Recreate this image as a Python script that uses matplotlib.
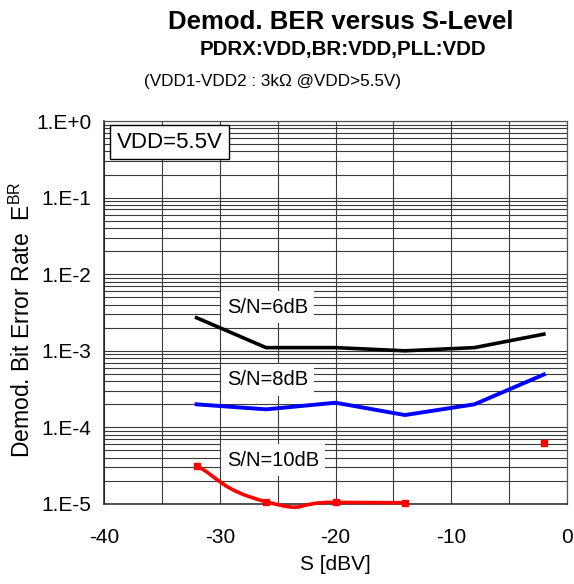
#!/usr/bin/env python3

import matplotlib
matplotlib.use("Agg")

from matplotlib.patches import PathPatch
from matplotlib.path import Path
from matplotlib.pyplot import close, figure, rcParams
from matplotlib.ticker import LogLocator, MultipleLocator, NullFormatter
from numpy import array, isnan, log10, nan

rcParams["font.family"] = ["Liberation Sans", "DejaVu Sans"]
rcParams["mathtext.fontset"] = "custom"
rcParams["mathtext.rm"] = "Liberation Sans"

# S level [dBV]
s_level = [-32, -26, -20, -14, -8, -2]
ber_6db = [2.7e-3, 1.1e-3, 1.1e-3, 1.0e-3, 1.1e-3, 1.65e-3]
ber_8db = [2.0e-4, 1.72e-4, 2.1e-4, 1.45e-4, 2.0e-4, 4.9e-4]
ber_10db = [3.15e-5, 1.07e-5, 1.05e-5, 1.04e-5, nan, 6.2e-5]

ytick_values = [1e0, 1e-1, 1e-2, 1e-3, 1e-4, 1e-5]
ytick_labels = ["1.E+0", "1.E-1", "1.E-2", "1.E-3", "1.E-4", "1.E-5"]
xtick_values = [-40, -30, -20, -10, 0]

labels = [
    ("S/N=6dB", -29.4, 3.73e-3),
    ("S/N=8dB", -29.4, 4.16e-4),
    ("S/N=10dB", -29.4, 3.75e-5),
]


def smooth_path(xs, ys, k=1 / 3):
    # bezier through the points, like a spreadsheet "smoothed line"
    pts = [array([x, log10(y)]) for (x, y) in zip(xs, ys)]
    n = len(pts)
    verts = [pts[0]]
    codes = [Path.MOVETO]
    for i in range(n - 1):
        p0 = pts[max(i - 1, 0)]
        p1 = pts[i]
        p2 = pts[i + 1]
        p3 = pts[min(i + 2, n - 1)]
        verts += [p1 + (p2 - p0) * k, p2 - (p3 - p1) * k, p2]
        codes += [Path.CURVE4] * 3
    return Path([(v[0], 10 ** v[1]) for v in verts], codes)


def segments(xs, ys):
    out = []
    cur = []
    for (x, y) in zip(xs, ys):
        if isnan(y):
            if cur:
                out.append(cur)
            cur = []
        else:
            cur.append((x, y))
    if cur:
        out.append(cur)
    return out


def do_plot(filename):
    fig = figure(figsize=(5.74, 5.84), dpi=100)
    ax = fig.add_axes([0.1812, 0.137, 0.8066, 0.6558])

    ax.set_yscale("log")
    ax.set_xlim(-40, 0)
    ax.set_ylim(1e-5, 1e0)
    ax.xaxis.set_major_locator(MultipleLocator(10))
    ax.xaxis.set_minor_locator(MultipleLocator(5))
    ax.set_xticks(xtick_values)
    ax.set_xticklabels([str(v) for v in xtick_values])
    ax.set_yticks(ytick_values)
    ax.set_yticklabels(ytick_labels)
    ax.yaxis.set_minor_locator(LogLocator(base=10, subs=range(2, 10)))
    ax.yaxis.set_minor_formatter(NullFormatter())
    ax.tick_params(which="both", length=0, labelsize=15)
    ax.tick_params(axis="y", pad=9)
    ax.tick_params(axis="x", pad=17)
    ax.grid(True, which="both", color="#3a3a3a", lw=0.8)
    ax.set_axisbelow(True)
    for side in ["top", "right"]:
        ax.spines[side].set_color("#555555")
        ax.spines[side].set_linewidth(0.9)
    for side in ["left", "bottom"]:
        ax.spines[side].set_color("#222222")
        ax.spines[side].set_linewidth(1.1)

    ax.plot(s_level, ber_6db, color="black", lw=2.6, zorder=3)
    ax.plot(s_level, ber_8db, color="#0000ff", lw=2.8, zorder=3)
    for seg in segments(s_level, ber_10db):
        xs = [p[0] for p in seg]
        ys = [p[1] for p in seg]
        if len(seg) > 1:
            ax.add_patch(PathPatch(
                smooth_path(xs, ys),
                fill=False,
                edgecolor="#ff0000",
                lw=2.6,
                zorder=3,
                clip_on=False,
            ))
        ax.plot(xs, ys, "s", color="#ff0000", ms=4, mec="#ff0000",
                zorder=4, clip_on=False)

    for (text, x, y) in labels:
        ax.text(x, y, text, fontsize=14.5, ha="left", va="center", zorder=5,
                bbox={"boxstyle": "square,pad=0.3", "facecolor": "white",
                      "edgecolor": "none"})
    ax.text(0.1415, 0.945, "VDD=5.5V", transform=ax.transAxes,
            fontsize=16, ha="center", va="center", zorder=5,
            bbox={"boxstyle": "square,pad=0.28", "facecolor": "white",
                  "edgecolor": "black", "lw": 1})

    fig.text(341 / 574, 1 - 22 / 584, "Demod. BER versus S-Level",
             fontsize=18.5, weight="bold", ha="center", va="center")
    fig.text(343 / 574, 1 - 50 / 584, "PDRX:VDD,BR:VDD,PLL:VDD",
             fontsize=14.8, weight="bold", ha="center", va="center")
    fig.text(273 / 574, 1 - 81 / 584, "(VDD1-VDD2 : 3k\u03a9 @VDD>5.5V)",
             fontsize=12.3, ha="center", va="center")
    fig.text(22 / 574, 1 - 320 / 584,
             r"Demod. Bit Error Rate  E$^{\mathrm{BR}}$",
             fontsize=16.5, rotation=90, ha="center", va="center")
    fig.text(335 / 574, 1 - 565 / 584, "S [dBV]",
             fontsize=15, ha="center", va="center")

    fig.savefig(filename, dpi=100)
    close(fig)


def main():
    do_plot("out.png")


if __name__ == "__main__":
    main()
